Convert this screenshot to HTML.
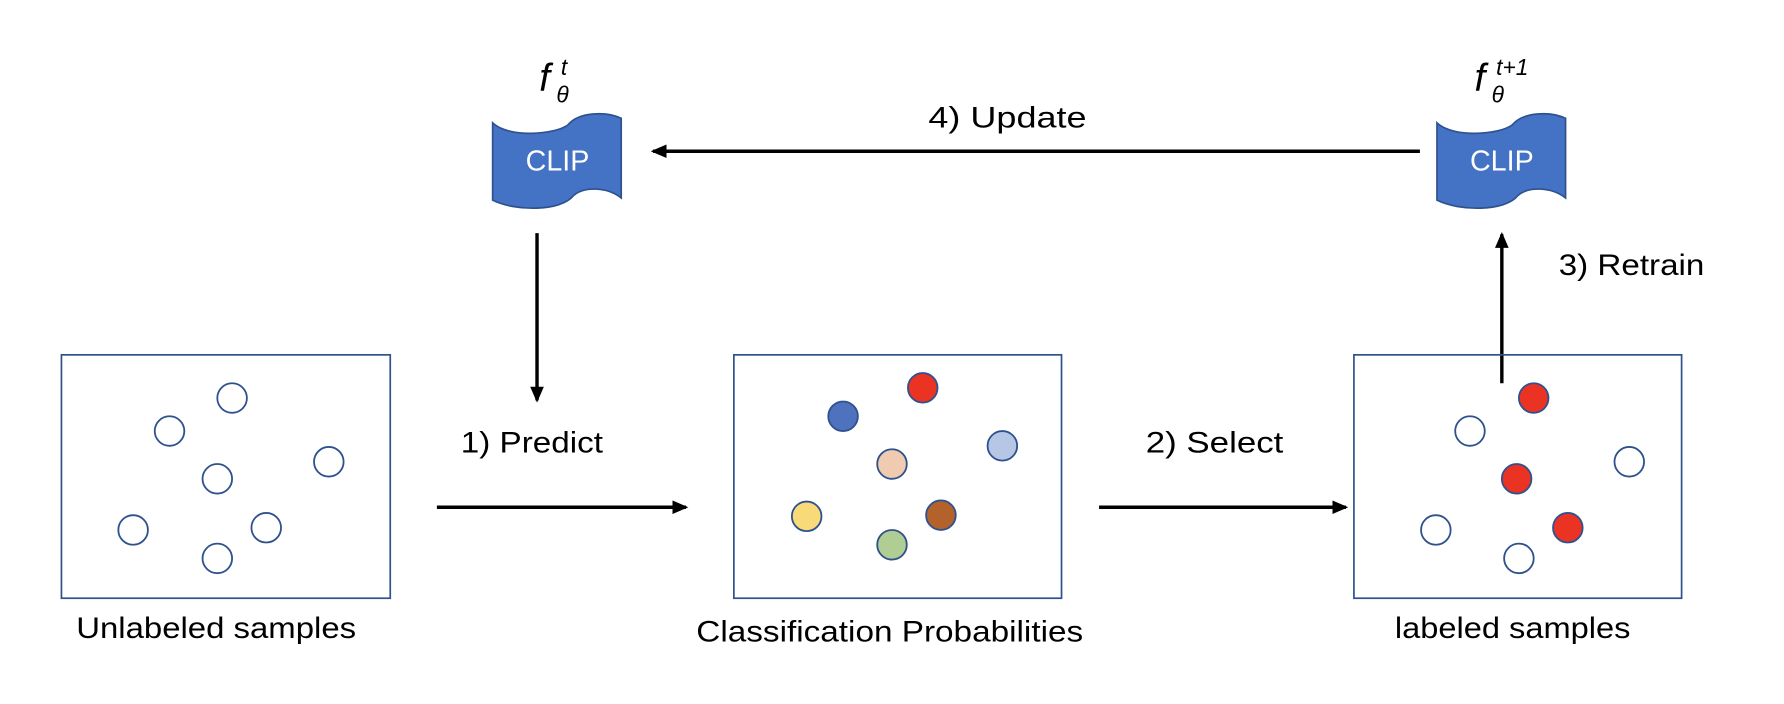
<!DOCTYPE html>
<html><head><meta charset="utf-8"><style>
html,body{margin:0;padding:0;background:#fff;width:1784px;height:704px;overflow:hidden}
svg{display:block}
text{font-family:"Liberation Sans",sans-serif;fill:#000}
</style></head><body>
<svg width="1784" height="704" viewBox="0 0 1568 619" preserveAspectRatio="none" xmlns="http://www.w3.org/2000/svg">
<defs>
<marker id="ah" markerWidth="14" markerHeight="12" refX="12" refY="6" orient="auto" markerUnits="userSpaceOnUse"><path d="M0,0 L14,6 L0,12 Z" fill="#000"/></marker>
<g id="clip">
<path d="M0,8 C15,22 55,18 66,10 C76,-2 100,-2 113,4 L113,74 C100,64 80,64 71,72 C60,86 20,86 0,76 Z" fill="#4472c4" stroke="#2f528f" stroke-width="1.5"/>
<text x="29" y="50" font-size="25" textLength="56" lengthAdjust="spacingAndGlyphs" style="fill:#fff">CLIP</text>
</g>
</defs>
<use href="#clip" x="433" y="100"/>
<use href="#clip" x="1263" y="100"/>
<text x="474" y="80" font-size="34" font-family="Liberation Serif" font-style="italic">f</text>
<text x="489" y="90" font-size="20" font-family="Liberation Serif" font-style="italic">θ</text>
<text x="493" y="66" font-size="20" font-family="Liberation Serif" font-style="italic">t</text>
<text x="1296" y="80" font-size="34" font-family="Liberation Serif" font-style="italic">f</text>
<text x="1311" y="90" font-size="20" font-family="Liberation Serif" font-style="italic">θ</text>
<text x="1315" y="66" font-size="20" font-family="Liberation Serif" font-style="italic">t+1</text>

<g stroke="#000" stroke-width="3" fill="none">
<line x1="1248" y1="133" x2="574" y2="133" marker-end="url(#ah)"/>
<line x1="472" y1="205" x2="472" y2="352" marker-end="url(#ah)"/>
<line x1="1320" y1="337" x2="1320" y2="206" marker-end="url(#ah)"/>
<line x1="384" y1="446" x2="603" y2="446" marker-end="url(#ah)"/>
<line x1="966" y1="446" x2="1183" y2="446" marker-end="url(#ah)"/>
</g>
<text x="816" y="112" font-size="26" textLength="139" lengthAdjust="spacingAndGlyphs">4) Update</text>
<text x="1370" y="242" font-size="26" textLength="128" lengthAdjust="spacingAndGlyphs">3) Retrain</text>
<text x="405" y="398" font-size="26" textLength="125" lengthAdjust="spacingAndGlyphs">1) Predict</text>
<text x="1007" y="398" font-size="26" textLength="121" lengthAdjust="spacingAndGlyphs">2) Select</text>

<g fill="none" stroke="#2f528f" stroke-width="1.5">
<rect x="54" y="312" width="289" height="214"/>
<rect x="645" y="312" width="288" height="214"/>
<rect x="1190" y="312" width="288" height="214"/>
</g>
<text x="67" y="561" font-size="26" textLength="246" lengthAdjust="spacingAndGlyphs">Unlabeled samples</text>
<text x="612" y="564" font-size="26" textLength="340" lengthAdjust="spacingAndGlyphs">Classification Probabilities</text>
<text x="1226" y="561" font-size="26" textLength="207" lengthAdjust="spacingAndGlyphs">labeled samples</text>

<g stroke="#2f528f" stroke-width="1.6">
<circle cx="204" cy="350" r="13" fill="#fff"/>
<circle cx="149" cy="379" r="13" fill="#fff"/>
<circle cx="289" cy="406" r="13" fill="#fff"/>
<circle cx="191" cy="421" r="13" fill="#fff"/>
<circle cx="117" cy="466" r="13" fill="#fff"/>
<circle cx="234" cy="464" r="13" fill="#fff"/>
<circle cx="191" cy="491" r="13" fill="#fff"/>

<circle cx="811" cy="341" r="13" fill="#ea3323"/>
<circle cx="741" cy="366" r="13" fill="#4e72bd"/>
<circle cx="881" cy="392" r="13" fill="#b5c7e5"/>
<circle cx="784" cy="408" r="13" fill="#f0cbb0"/>
<circle cx="827" cy="453" r="13" fill="#b3622b"/>
<circle cx="709" cy="454" r="13" fill="#f9da78"/>
<circle cx="784" cy="479" r="13" fill="#b0cd94"/>

<circle cx="1348" cy="350" r="13" fill="#ea3323"/>
<circle cx="1292" cy="379" r="13" fill="#fff"/>
<circle cx="1432" cy="406" r="13" fill="#fff"/>
<circle cx="1333" cy="421" r="13" fill="#ea3323"/>
<circle cx="1262" cy="466" r="13" fill="#fff"/>
<circle cx="1378" cy="464" r="13" fill="#ea3323"/>
<circle cx="1335" cy="491" r="13" fill="#fff"/>
</g>
</svg>
</body></html>
